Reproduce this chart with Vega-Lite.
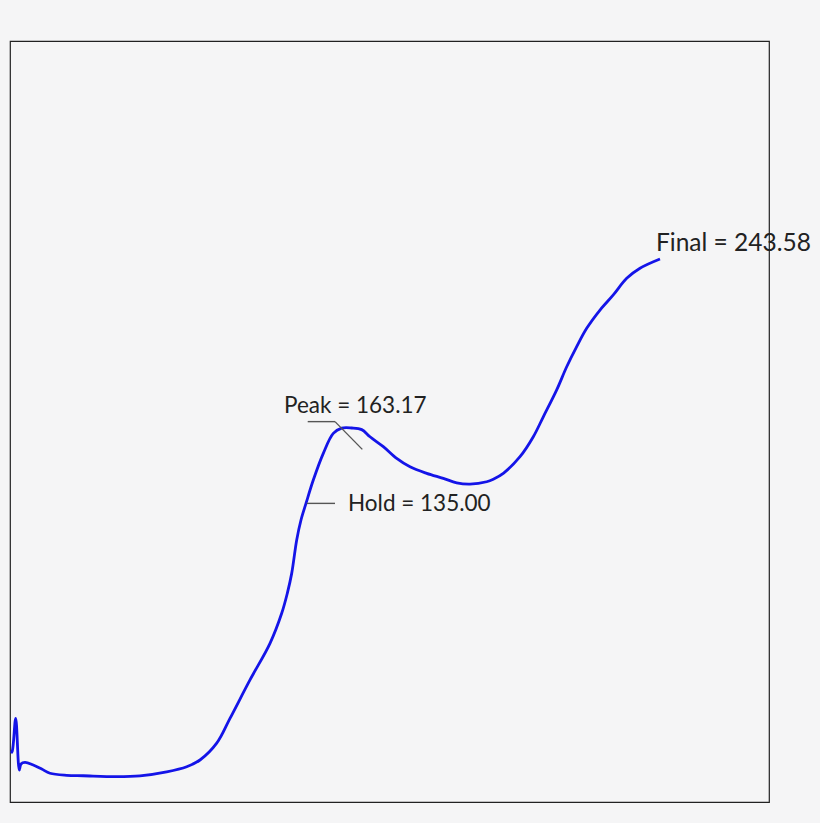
{
  "$schema": "https://vega.github.io/schema/vega-lite/v6.json",
  "description": "Force curve with peak, hold and final annotations",
  "autosize": {"type": "none"},
  "padding": {"left": 10, "top": 41, "right": 51, "bottom": 21},
  "width": 759,
  "height": 761,
  "background": "#f5f5f6",
  "config": {
    "view": {"stroke": "#222222", "strokeWidth": 1.2, "fill": "#f5f5f6"},
    "text": {"font": "Lato", "fontSize": 22.5, "letterSpacing": 0.6, "color": "#222222"}
  },
  "datasets": {
    "curve": [
      {"t": 1, "force": 8.5},
      {"t": 2.3, "force": 9.5},
      {"t": 5.7, "force": 25.0},
      {"t": 9.3, "force": 0.4},
      {"t": 11, "force": 3.3},
      {"t": 15, "force": 4.1},
      {"t": 23.3, "force": 2.8},
      {"t": 31.7, "force": 0.9},
      {"t": 40, "force": -1.1},
      {"t": 56.7, "force": -2.1},
      {"t": 73.3, "force": -2.3},
      {"t": 106.7, "force": -2.7},
      {"t": 130, "force": -2.3},
      {"t": 156.7, "force": -0.4},
      {"t": 176.7, "force": 2.0},
      {"t": 190, "force": 5.2},
      {"t": 206.7, "force": 13.2},
      {"t": 220, "force": 25.0},
      {"t": 240, "force": 43.3},
      {"t": 260, "force": 60.7},
      {"t": 271.7, "force": 75.0},
      {"t": 277.3, "force": 84.5},
      {"t": 281.7, "force": 94.0},
      {"t": 286.7, "force": 109.9},
      {"t": 291, "force": 119.4},
      {"t": 296, "force": 127.3},
      {"t": 303.3, "force": 138.4},
      {"t": 313.3, "force": 151.1},
      {"t": 323.3, "force": 160.6},
      {"t": 331.7, "force": 163.1},
      {"t": 341.7, "force": 163.17},
      {"t": 351.7, "force": 162.4},
      {"t": 360, "force": 159.0},
      {"t": 373.3, "force": 154.3},
      {"t": 386.7, "force": 148.7},
      {"t": 400, "force": 144.7},
      {"t": 416.7, "force": 141.6},
      {"t": 433.3, "force": 139.2},
      {"t": 446.7, "force": 137.1},
      {"t": 460, "force": 136.5},
      {"t": 476.7, "force": 137.6},
      {"t": 483.3, "force": 138.8},
      {"t": 493.3, "force": 141.6},
      {"t": 510, "force": 149.5},
      {"t": 523.3, "force": 159.0},
      {"t": 533.3, "force": 168.5},
      {"t": 546.7, "force": 181.3},
      {"t": 556.7, "force": 192.3},
      {"t": 566.7, "force": 201.9},
      {"t": 576.7, "force": 210.6},
      {"t": 590, "force": 219.3},
      {"t": 603.3, "force": 226.5},
      {"t": 616.7, "force": 234.4},
      {"t": 630, "force": 239.2},
      {"t": 650, "force": 243.58}
    ],
    "leaders": [
      {"t": 297.7, "force": 166.2, "t2": 325, "force2": 166.2},
      {"t": 325, "force": 166.2, "t2": 352.3, "force2": 153.0},
      {"t": 296.7, "force": 127.3, "t2": 325, "force2": 127.3}
    ],
    "labels": [
      {"t": 274, "force": 173.6, "label": "Peak = 163.17"},
      {"t": 338, "force": 126.8, "label": "Hold = 135.00"}
    ],
    "final": [
      {"t": 646, "force": 250.9, "label": "Final = 243.58"}
    ]
  },
  "layer": [
    {
      "data": {"name": "curve"},
      "mark": {"type": "line", "color": "#1414e8", "strokeWidth": 2.8, "interpolate": "catmull-rom", "clip": false},
      "encoding": {
        "x": {"field": "t", "type": "quantitative", "scale": {"domain": [0, 759], "nice": false, "zero": false}, "axis": null},
        "y": {"field": "force", "type": "quantitative", "scale": {"domain": [-14.78, 347.3], "nice": false, "zero": false}, "axis": null}
      }
    },
    {
      "data": {"name": "leaders"},
      "mark": {"type": "rule", "color": "#555555", "strokeWidth": 1.4},
      "encoding": {
        "x": {"field": "t", "type": "quantitative"},
        "x2": {"field": "t2"},
        "y": {"field": "force", "type": "quantitative"},
        "y2": {"field": "force2"}
      }
    },
    {
      "data": {"name": "labels"},
      "mark": {"type": "text", "align": "left", "baseline": "middle"},
      "encoding": {
        "x": {"field": "t", "type": "quantitative"},
        "y": {"field": "force", "type": "quantitative"},
        "text": {"field": "label"}
      }
    },
    {
      "data": {"name": "final"},
      "mark": {"type": "text", "align": "left", "baseline": "middle", "fontSize": 24.5},
      "encoding": {
        "x": {"field": "t", "type": "quantitative"},
        "y": {"field": "force", "type": "quantitative"},
        "text": {"field": "label"}
      }
    },
    {
      "mark": {"type": "rule", "color": "#222222", "strokeWidth": 2.6},
      "encoding": {"x": {"datum": 759, "type": "quantitative"}}
    }
  ]
}
